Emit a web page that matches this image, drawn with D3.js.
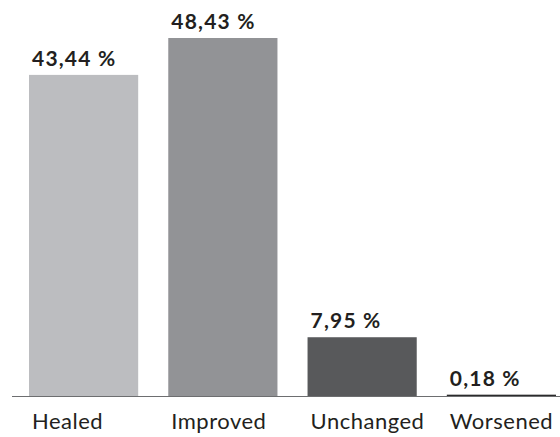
<!DOCTYPE html>
<html>
<head>
<meta charset="utf-8">
<script src="https://cdn.jsdelivr.net/npm/d3@7"></script>
<style>
  html, body { margin: 0; padding: 0; background: #fff; }
  svg { display: block; }
</style>
</head>
<body>
<svg id="chart" width="560" height="437"></svg>
<script>
// Outcome categories and their shares (percent)
const categories = ["Healed", "Improved", "Unchanged", "Worsened"];
const values = [43.44, 48.43, 7.95, 0.18];
const valueLabels = ["43,44 %", "48,43 %", "7,95 %", "0,18 %"];
const colors = ["#bcbdc0", "#929396", "#58595b", "#2b2b2c"];

const svg = d3.select("#chart");
const baseline = 396;

const x = d3.scaleBand()
  .domain(categories)
  .range([29, 556])
  .paddingInner(0.216)
  .paddingOuter(0);

const y = d3.scaleLinear()
  .domain([0, 48.43])
  .range([baseline, 38]);

// Bars
svg.selectAll("rect.bar")
  .data(categories)
  .join("rect")
  .attr("class", "bar")
  .attr("x", d => x(d))
  .attr("width", x.bandwidth())
  .attr("y", (d, i) => y(values[i]))
  .attr("height", (d, i) => baseline - y(values[i]))
  .attr("fill", (d, i) => colors[i]);

// Baseline rule
svg.append("line")
  .attr("x1", 12).attr("x2", 560)
  .attr("y1", baseline + 0.5).attr("y2", baseline + 0.5)
  .attr("stroke", "#6d6e70")
  .attr("stroke-width", 1.2);

// Value labels above bars
svg.selectAll("text.value")
  .data(categories)
  .join("text")
  .attr("class", "value")
  .attr("x", d => x(d) + 3)
  .attr("y", (d, i) => y(values[i]) - 9)
  .attr("font-family", "Lato, 'DejaVu Sans', sans-serif")
  .attr("font-weight", "bold")
  .attr("font-size", 21)
  .attr("letter-spacing", 1.2)
  .attr("fill", "#231f20")
  .text((d, i) => valueLabels[i]);

// Category axis labels
const xAxis = d3.axisBottom(x).tickSize(0).tickPadding(0);
const axisG = svg.append("g")
  .attr("transform", `translate(0,${baseline})`)
  .call(xAxis);
axisG.select(".domain").remove();
axisG.selectAll(".tick text")
  .attr("text-anchor", "start")
  .attr("x", -x.bandwidth() / 2 + 3)
  .attr("y", 33)
  .attr("dy", 0)
  .attr("font-family", "Lato, 'DejaVu Sans', sans-serif")
  .attr("font-size", 22)
  .attr("letter-spacing", 0.5)
  .attr("fill", "#231f20");
</script>
</body>
</html>
